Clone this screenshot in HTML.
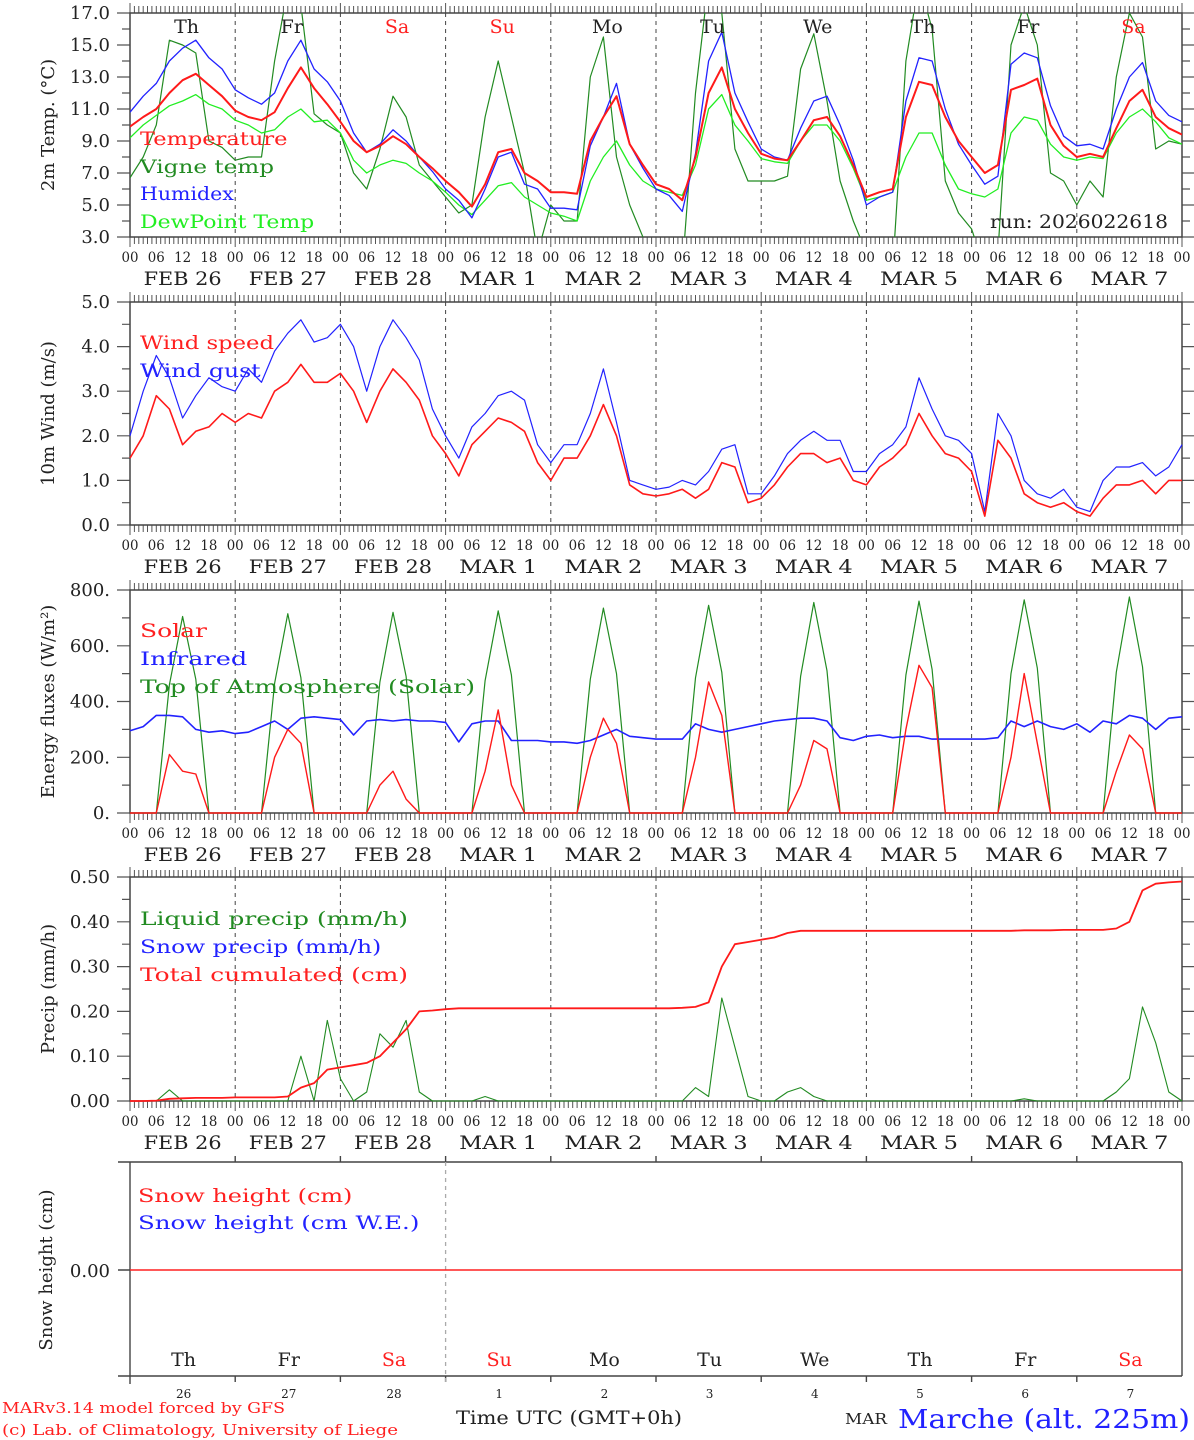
<!DOCTYPE html>
<html><head><meta charset="utf-8"><title>MAR meteogram - Marche</title>
<style>
html,body{margin:0;padding:0;background:#fff;}
svg{display:block;font-family:"DejaVu Serif","Liberation Serif",serif;}
</style></head>
<body>
<svg id="chart" width="1194" height="1440" viewBox="0 0 1194 1440" xmlns="http://www.w3.org/2000/svg">
<defs>
<clipPath id="c1"><rect x="130" y="13" width="1052" height="224"/></clipPath>
</defs>
</svg>
<script>
// ---- data (3-hourly, 81 points from FEB 26 00h to MAR 8 00h) ----
const days = ["FEB  26","FEB  27","FEB  28","MAR   1","MAR   2","MAR   3","MAR   4","MAR   5","MAR   6","MAR   7"];
const dayNames = ["Th","Fr","Sa","Su","Mo","Tu","We","Th","Fr","Sa"];
const dayNums = ["26","27","28","1","2","3","4","5","6","7"];
const hourTicks = ["00","06","12","18"];
const tempTicks = [3,5,7,9,11,13,15,17];
const windTicks = [0,1,2,3,4,5];
const fluxTicks = [0,200,400,600,800];
const precipTicks = [0,0.1,0.2,0.3,0.4,0.5];

const temperature = [9.9,10.5,11.0,12.0,12.8,13.2,12.5,11.8, 10.9,10.5,10.3,10.8,12.3,13.6,12.3,11.3, 10.2,9.0,8.3,8.7,9.3,8.8,8.0,7.3, 6.5,5.8,4.9,6.3,8.3,8.5,7.0,6.5, 5.8,5.8,5.7,9.0,10.5,11.8,8.8,7.5, 6.3,6.0,5.3,8.0,12.0,13.6,11.0,9.5, 8.2,7.9,7.8,9.0,10.3,10.5,9.3,7.5, 5.5,5.8,6.0,10.5,12.7,12.5,10.5,9.0, 8.0,7.0,7.5,12.2,12.5,12.9,10.0,8.7, 8.0,8.2,8.0,9.8,11.5,12.2,10.5,9.8,9.4];
const vigne = [6.7,8.0,10.0,15.3,15.0,14.5,9.0,8.6, 7.8,8.0,8.0,14.0,18.5,17.5,10.7,10.0, 9.5,7.0,6.0,8.5,11.8,10.5,7.5,6.5, 5.5,4.5,5.0,10.5,14.0,10.5,7.0,2.0, 5.0,4.0,4.0,13.0,15.5,8.0,5.0,3.0, 1.0,1.0,1.0,12.0,19.0,17.0,8.5,6.5, 6.5,6.5,6.8,13.5,15.7,11.5,6.5,4.0, 2.0,2.5,1.0,14.0,19.0,16.0,6.5,4.5, 3.5,1.0,2.0,15.0,17.5,15.0,7.0,6.5, 5.0,6.5,5.5,13.0,17.0,15.5,8.5,9.0,8.8];
const humidex = [10.8,11.8,12.6,14.0,14.8,15.3,14.2,13.5, 12.2,11.7,11.3,12.0,14.0,15.3,13.5,12.7, 11.5,9.5,8.3,8.8,9.7,9.0,8.0,7.1, 6.0,5.3,4.2,6.0,8.0,8.3,6.3,6.0, 4.8,4.8,4.7,8.7,10.5,12.6,8.8,7.3, 6.0,5.6,4.6,8.2,14.0,15.8,12.0,10.2, 8.5,8.0,7.8,9.8,11.5,11.8,10.0,7.8, 5.0,5.5,5.8,11.5,14.2,14.0,11.0,8.8, 7.5,6.3,6.8,13.8,14.5,14.2,11.2,9.3, 8.7,8.8,8.5,11.0,13.0,13.9,11.5,10.6,10.2];
const dewpoint = [9.2,10.0,10.6,11.2,11.5,11.9,11.3,11.0, 10.3,10.0,9.5,9.7,10.5,11.0,10.2,10.3, 9.5,7.8,7.0,7.5,7.8,7.6,7.0,6.5, 5.8,5.0,4.4,5.3,6.2,6.4,5.5,5.0, 4.5,4.3,4.0,6.5,8.0,9.0,7.5,6.5, 6.0,5.8,5.6,7.5,11.0,11.9,10.0,9.0, 7.9,7.7,7.6,9.0,10.0,10.0,9.0,7.3, 5.3,5.5,5.8,8.0,9.5,9.5,7.5,6.0, 5.7,5.5,6.0,9.5,10.5,10.3,8.8,8.0, 7.8,8.0,7.9,9.5,10.5,11.0,10.2,9.2,8.8];
const windSpeed = [1.5,2.0,2.9,2.6,1.8,2.1,2.2,2.5, 2.3,2.5,2.4,3.0,3.2,3.6,3.2,3.2, 3.4,3.0,2.3,3.0,3.5,3.2,2.8,2.0, 1.6,1.1,1.8,2.1,2.4,2.3,2.1,1.4, 1.0,1.5,1.5,2.0,2.7,2.0,0.9,0.7, 0.65,0.7,0.8,0.6,0.8,1.4,1.3,0.5, 0.6,0.9,1.3,1.6,1.6,1.4,1.5,1.0, 0.9,1.3,1.5,1.8,2.5,2.0,1.6,1.5, 1.2,0.2,1.9,1.5,0.7,0.5,0.4,0.5, 0.3,0.2,0.6,0.9,0.9,1.0,0.7,1.0,1.0];
const windGust = [2.0,3.0,3.8,3.3,2.4,2.9,3.3,3.1, 3.0,3.5,3.2,3.9,4.3,4.6,4.1,4.2, 4.5,4.0,3.0,4.0,4.6,4.2,3.7,2.6, 2.0,1.5,2.2,2.5,2.9,3.0,2.8,1.8, 1.4,1.8,1.8,2.5,3.5,2.3,1.0,0.9, 0.8,0.85,1.0,0.9,1.2,1.7,1.8,0.7, 0.7,1.1,1.6,1.9,2.1,1.9,1.9,1.2, 1.2,1.6,1.8,2.2,3.3,2.6,2.0,1.9, 1.6,0.3,2.5,2.0,1.0,0.7,0.6,0.8, 0.4,0.3,1.0,1.3,1.3,1.4,1.1,1.3,1.8];
const solar = [0,0,0,210,150,140,0,0, 0,0,0,200,300,250,0,0, 0,0,0,100,150,50,0,0, 0,0,0,150,370,100,0,0, 0,0,0,200,340,250,0,0, 0,0,0,200,470,350,0,0, 0,0,0,100,260,230,0,0, 0,0,0,300,530,450,0,0, 0,0,0,200,500,250,0,0, 0,0,0,150,280,230,0,0,0];
const infrared = [295,310,350,350,345,300,290,295, 285,290,310,330,300,340,345,340, 335,280,330,335,330,335,330,330, 325,255,320,330,330,260,260,260, 255,255,250,260,280,300,275,270, 265,265,265,320,300,290,300,310, 320,330,335,340,340,330,270,260, 275,280,270,275,275,265,265,265, 265,265,270,330,310,330,310,300, 320,290,330,320,350,340,300,340,345];
const toa = [0,0,0,460,705,480,0,0, 0,0,0,465,715,485,0,0, 0,0,0,470,720,490,0,0, 0,0,0,475,725,495,0,0, 0,0,0,480,735,500,0,0, 0,0,0,485,745,505,0,0, 0,0,0,490,755,510,0,0, 0,0,0,495,760,515,0,0, 0,0,0,500,765,520,0,0, 0,0,0,505,775,525,0,0,0];
const liquid = [0,0,0,0.025,0,0,0,0, 0,0,0,0,0,0.1,0,0.18, 0.05,0,0.02,0.15,0.12,0.18,0.02,0, 0,0,0,0.01,0,0,0,0, 0,0,0,0,0,0,0,0, 0,0,0,0.03,0.01,0.23,0.12,0.01, 0,0,0.02,0.03,0.01,0,0,0, 0,0,0,0,0,0,0,0, 0,0,0,0,0.005,0,0,0, 0,0,0,0.02,0.05,0.21,0.13,0.02,0];
const cumulated = [0,0,0.001,0.005,0.006,0.007,0.007,0.007, 0.008,0.008,0.008,0.008,0.01,0.03,0.04,0.07, 0.075,0.08,0.085,0.1,0.13,0.16,0.2,0.202, 0.205,0.207,0.207,0.207,0.207,0.207,0.207,0.207, 0.207,0.207,0.207,0.207,0.207,0.207,0.207,0.207, 0.207,0.207,0.208,0.21,0.22,0.3,0.35,0.355, 0.36,0.365,0.375,0.38,0.38,0.38,0.38,0.38, 0.38,0.38,0.38,0.38,0.38,0.38,0.38,0.38, 0.38,0.38,0.38,0.38,0.381,0.381,0.381,0.382, 0.382,0.382,0.382,0.385,0.4,0.47,0.485,0.488,0.49];
const snowHeight = [0,0];

// ---- geometry ----
const NS="http://www.w3.org/2000/svg";
const svg=document.getElementById('chart');
const X0=130, X1=1182, NPTS=80;
function xs(i){return X0+(X1-X0)*i/NPTS;}
function xh(h){return X0+(X1-X0)*h/240;}
function mk(tag,attrs,parent){const e=document.createElementNS(NS,tag);for(const k in attrs)e.setAttribute(k,attrs[k]);(parent||svg).appendChild(e);return e;}
function txt(s,x,y,size,fill,anchor,len,parent){const t=mk('text',{x:x,y:y,'font-size':size,fill:fill,'text-anchor':anchor||'start'},parent);if(len){t.setAttribute('textLength',len);t.setAttribute('lengthAdjust','spacingAndGlyphs');}t.textContent=s;return t;}

const panels=[
 {top:13,bot:237,min:3,max:17,ticks:tempTicks,fmt:v=>v.toFixed(1),minor:1,title:"2m Temp. (°C)",name:"temperature-panel"},
 {top:302,bot:525,min:0,max:5,ticks:windTicks,fmt:v=>v.toFixed(1),minor:0.5,title:"10m Wind (m/s)",name:"wind-panel"},
 {top:590,bot:813,min:0,max:800,ticks:fluxTicks,fmt:v=>v+".",minor:100,title:"Energy fluxes (W/m²)",name:"energy-panel"},
 {top:877,bot:1101,min:0,max:0.5,ticks:precipTicks,fmt:v=>v.toFixed(2),minor:0.05,title:"Precip (mm/h)",name:"precip-panel"}
];
function ys(p,v){return p.bot-(v-p.min)/(p.max-p.min)*(p.bot-p.top);}

panels.forEach((p,pi)=>{
 const g=mk('g',{});
 
 
 for(let d=1;d<10;d++){const l=mk('line',{x1:xh(d*24),x2:xh(d*24),y1:p.top,y2:p.bot,stroke:'#444','stroke-width':1,'stroke-dasharray':'4,4'},g);
  
  }
 let d='';
 for(let h=0;h<=240;h++){const x=xh(h).toFixed(1);const L=(h%24===0)?10:7;d+=`M${x} ${p.top}v-${L}M${x} ${p.bot}v${L}`;}
 const tk=mk('path',{d:d,stroke:'#555','stroke-width':1,fill:'none'},g);
 
 
 let yd='';
 for(let v=p.min;v<=p.max+1e-9;v+=p.minor){const y=ys(p,v).toFixed(1);yd+=`M${X0} ${y}h-8M${X1} ${y}h8`;}
 p.ticks.forEach(v=>{const y=ys(p,v).toFixed(1);yd+=`M${X0} ${y}h-13M${X1} ${y}h13`;});
 mk('path',{d:yd,stroke:'#555','stroke-width':1.2,fill:'none'},g);
 const fr=mk('rect',{x:X0,y:p.top,width:X1-X0,height:p.bot-p.top,fill:'none',stroke:'#444','stroke-width':1.5},g);
 
 
 p.ticks.forEach(v=>{const t=txt(p.fmt(v),110,ys(p,v)+6,18,'#222','end',null,g);
  
  });
 const cy=(p.top+p.bot)/2;
 const tt=mk('text',{x:0,y:0,'font-size':18,fill:'#222','text-anchor':'middle',transform:`translate(54 ${cy}) rotate(-90)`},g);
 tt.textContent=p.title;
 
 
 for(let dd=0;dd<=10;dd++){
  hourTicks.forEach((hl,k)=>{if(dd===10&&k>0)return;const t=txt(hl,xh(dd*24+k*6),p.bot+25,13.5,'#222','middle',17,g);
   
   });
  if(dd<10){const t=txt(days[dd],xh(dd*24+12),p.bot+48,18.5,'#222','middle',78,g);
   
   }
 }
});

function line(p,arr,color,w,name,clip){
 let d='';arr.forEach((v,i)=>{d+=(i?'L':'M')+xs(i).toFixed(1)+' '+ys(p,v).toFixed(1);});
 const e=mk('path',{d:d,stroke:color,'stroke-width':w,fill:'none','stroke-linejoin':'round'});
 if(clip)e.setAttribute('clip-path','url(#c1)');
 
 
 return e;
}
const P=panels;
line(P[0],vigne,'#228b22',1.2,'vigne-temp-line',true);
line(P[0],dewpoint,'#22ee22',1.3,'dewpoint-line',true);
line(P[0],humidex,'#2222ff',1.3,'humidex-line',true);
line(P[0],temperature,'#ff1a1a',2,'temperature-line',true);
line(P[1],windGust,'#2222ff',1.2,'wind-gust-line');
line(P[1],windSpeed,'#ff1a1a',1.6,'wind-speed-line');
line(P[2],toa,'#228b22',1.2,'toa-solar-line');
line(P[2],infrared,'#2222ff',1.6,'infrared-line');
line(P[2],solar,'#ff1a1a',1.4,'solar-line');
line(P[3],liquid,'#228b22',1.1,'liquid-precip-line');
line(P[3],cumulated,'#ff1a1a',1.8,'cumulated-precip-line');

dayNames.forEach((n,i)=>{const red=(n==='Sa'||n==='Su');const t=txt(n,xh(i*24+12)+4,33,19,red?'#ff2020':'#222','middle',null);
 
 });

function leg(s,x,y,c){const t=txt(s,x,y,19,c,'start',s.length*13.4);
 
 }
leg('Temperature',140,145,'#ff2020');leg('Vigne temp',140,173,'#228b22');leg('Humidex',140,200,'#2222ff');leg('DewPoint Temp',140,228,'#22ee22');
leg('Wind speed',140,349,'#ff2020');leg('Wind gust',140,377,'#2222ff');
leg('Solar',140,637,'#ff2020');leg('Infrared',140,665,'#2222ff');leg('Top of Atmosphere (Solar)',140,693,'#228b22');
leg('Liquid precip (mm/h)',140,925,'#228b22');leg('Snow precip (mm/h)',140,953,'#2222ff');leg('Total cumulated (cm)',140,981,'#ff2020');
leg('Snow height (cm)',138,1202,'#ff2020');leg('Snow height (cm W.E.)',138,1229,'#2222ff');
const run=txt('run: 2026022618',990,228,19,'#222','start',178);



// ---- snow panel ----
const sp={top:1162,bot:1376,zero:1270};
let sd=`M118 ${sp.top}H${X1}M118 ${sp.bot}H${X1}M${X0} ${sp.top}V1384M${X1} ${sp.top}V${sp.bot}M118 ${sp.zero}H${X0}`;
for(let d=1;d<10;d++){const x=xh(d*24).toFixed(1);sd+=`M${x} ${sp.top}v-6M${x} ${sp.bot}v6`;}
const sf=mk('path',{d:sd,stroke:'#444','stroke-width':1.4,fill:'none'});


const sdash=mk('line',{x1:xh(72),x2:xh(72),y1:sp.top,y2:1386,stroke:'#aaa','stroke-width':1.3,'stroke-dasharray':'4,4'});


const sl=mk('line',{x1:X0,x2:X1,y1:sp.zero-snowHeight[0]*100,y2:sp.zero-snowHeight[1]*100,stroke:'#ff2020','stroke-width':1.6});


const sy=txt('0.00',110,sp.zero+7,18,'#222','end');


const st=mk('text',{x:0,y:0,'font-size':18,fill:'#222','text-anchor':'middle',transform:`translate(52 1270) rotate(-90)`});
st.textContent='Snow height (cm)';


dayNames.forEach((n,i)=>{const red=(n==='Sa'||n==='Su');const t=txt(n,xh(i*24+12)+1,1366,19,red?'#ff2020':'#222','middle');
 
 
 const u=txt(dayNums[i],xh(i*24+12)+1,1398,12,'#222','middle');
 
 });

const f1=txt('MARv3.14 model forced by GFS',2,1413,15,'#ff2020','start',283);


const f2=txt('(c) Lab. of Climatology, University of Liege',2,1435,15,'#ff2020','start',396);


const f3=txt('Time UTC (GMT+0h)',456,1424,19,'#222','start',226);


const f4=txt('MAR',845,1424,15,'#222','start',42);


const f5=txt('Marche (alt. 225m)',898,1428,26,'#2222ff','start',292);


</script>
</body></html>
